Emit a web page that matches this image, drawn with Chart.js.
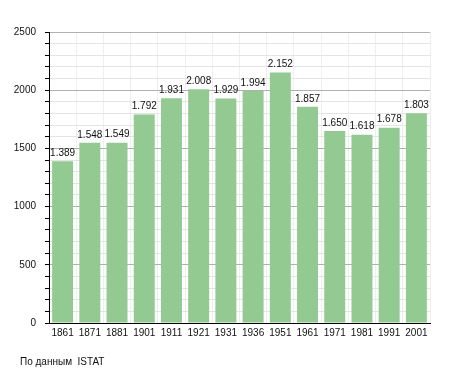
<!DOCTYPE html>
<html>
<head>
<meta charset="utf-8">
<script src="https://cdn.jsdelivr.net/npm/chart.js@4"></script>
<style>
  body { margin: 0; background: #fff; }
  #wrap { width: 455px; height: 373px; }
</style>
</head>
<body>
<div id="wrap"><canvas id="myChart" width="455" height="373"></canvas></div>
<script>
var years = ['1861', '1871', '1881', '1901', '1911', '1921', '1931', '1936', '1951', '1961', '1971', '1981', '1991', '2001'];
var population = [1389, 1548, 1549, 1792, 1931, 2008, 1929, 1994, 2152, 1857, 1650, 1618, 1678, 1803];
var yTickLabels = [0, 500, 1000, 1500, 2000, 2500];
var sourceNote = 'По данным  ISTAT';

// 1548 -> "1.548"
function fmt(n) {
    var s = String(n);
    return s.length > 3 ? s.slice(0, s.length - 3) + '.' + s.slice(-3) : s;
}

// numbers above each bar + the source line at the bottom
var labelsPlugin = {
    id: 'barLabels',
    afterDatasetsDraw: function(chart) {
        var ctx = chart.ctx;
        var meta = chart.getDatasetMeta(0);
        ctx.save();
        ctx.font = '10px "Liberation Sans", Arial, sans-serif';
        ctx.fillStyle = '#111';
        ctx.textAlign = 'center';
        ctx.textBaseline = 'bottom';
        meta.data.forEach(function(bar, i) {
            ctx.fillText(fmt(population[i]), bar.x, bar.y - 3);
        });
        ctx.textAlign = 'left';
        ctx.textBaseline = 'middle';
        ctx.fillText(sourceNote, 20, 362);
        ctx.restore();
    }
};

var ctx = document.getElementById('myChart').getContext('2d');
var chart = new Chart(ctx, {
    type: 'bar',
    data: {
        labels: years,
        datasets: [{
            data: population,
            backgroundColor: 'rgb(146, 202, 146)',
            borderWidth: 0,
            categoryPercentage: 1,
            barPercentage: 0.77
        }]
    },
    options: {
        responsive: false,
        animation: false,
        layout: { padding: { top: 32, right: 25, left: 0, bottom: 0 } },
        plugins: {
            legend: { display: false },
            tooltip: { enabled: false }
        },
        scales: {
            x: {
                afterFit: function(scale) { scale.height = 50; },
                grid: {
                    color: '#efefef',
                    drawTicks: false
                },
                border: { color: '#000', width: 1 },
                ticks: {
                    color: '#111',
                    padding: 4,
                    maxRotation: 0,
                    autoSkip: false,
                    font: { family: '"Liberation Sans", Arial, sans-serif', size: 10 }
                }
            },
            y: {
                min: 0,
                max: 2500,
                afterFit: function(scale) { scale.width = 49; },
                afterBuildTicks: function(scale) {
                    var t = [];
                    for (var v = 0; v <= 2500; v += 100) t.push({ value: v });
                    scale.ticks = t;
                },
                grid: {
                    color: function(c) {
                        if (c.tick && c.tick.value === 0) return 'rgba(0,0,0,0)';
                        return c.tick && c.tick.value % 500 === 0 ? '#b0b0b0' : '#e4e4e4';
                    },
                    tickColor: '#000',
                    tickLength: 4
                },
                border: { color: '#000', width: 1 },
                ticks: {
                    color: '#111',
                    padding: 9,
                    autoSkip: false,
                    font: { family: '"Liberation Sans", Arial, sans-serif', size: 10 },
                    callback: function(v) {
                        return yTickLabels.indexOf(v) >= 0 ? String(v) : '';
                    }
                }
            }
        }
    },
    plugins: [labelsPlugin]
});
</script>
</body>
</html>
